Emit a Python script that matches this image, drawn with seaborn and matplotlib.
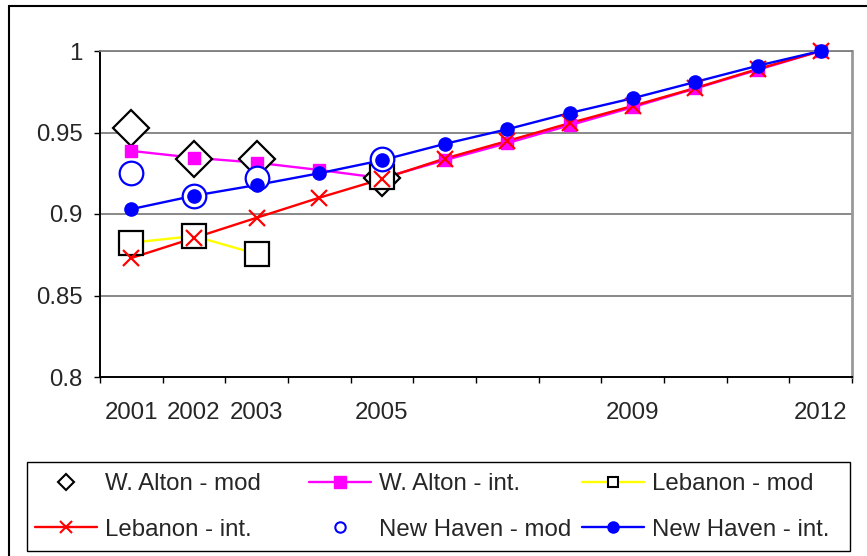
import numpy as np
import pandas as pd
import matplotlib
matplotlib.use("Agg")
import matplotlib.pyplot as plt
from matplotlib.lines import Line2D
from matplotlib.patches import Rectangle
import seaborn as sns

nan = np.nan

# ---- data -------------------------------------------------------------
years = list(range(2001, 2013))
walton_mod = [0.953, 0.934, 0.934, nan, 0.922, nan, nan, nan, nan, nan, nan, nan]
walton_int = [0.9387, 0.9345, 0.9315, 0.927, 0.922, 0.933, 0.9435, 0.9545,
              0.9655, 0.977, 0.9885, 1.0]
lebanon_mod = [0.8824, 0.8865, 0.8755, nan, 0.9225, nan, nan, nan, nan, nan, nan, nan]
lebanon_int = [0.873, 0.8853, 0.8977, 0.910, 0.9215, 0.934, 0.9448, 0.9558,
               0.9663, 0.9773, 0.989, 1.0]
newhaven_mod = [0.925, 0.911, 0.922, nan, 0.9335, nan, nan, nan, nan, nan, nan, nan]
newhaven_int = [0.903, 0.9112, 0.9178, 0.925, 0.933, 0.943, 0.952, 0.962,
                0.971, 0.981, 0.991, 1.0]

series_names = ["W. Alton - mod", "W. Alton - int.", "Lebanon - mod",
                "Lebanon - int.", "New Haven - mod", "New Haven - int."]
series_values = [walton_mod, walton_int, lebanon_mod,
                 lebanon_int, newhaven_mod, newhaven_int]

labeled_years = [2001, 2002, 2003, 2005, 2009, 2012]
y_ticks = [0.8, 0.85, 0.9, 0.95, 1.0]
y_tick_labels = ["0.8", "0.85", "0.9", "0.95", "1"]

# ---- styles -----------------------------------------------------------
styles = [
    dict(line=None, marker="D", ms=18, mfc="white", mec="black", mew=1.6,
         leg_ms=8),
    dict(line="#FF00FF", marker="s", ms=9, mfc="#FF00FF", mec="#FF00FF", mew=1,
         leg_ms=8.5),
    dict(line="#FFFF00", marker="s", ms=17, mfc="white", mec="black", mew=1.6,
         leg_ms=7),
    dict(line="#FF0000", marker="x", ms=11, mfc="#FF0000", mec="#FF0000", mew=1.6,
         leg_ms=9),
    dict(line=None, marker="o", ms=17, mfc="white", mec="#0000FF", mew=1.6,
         leg_ms=7.5),
    dict(line="#0000FF", marker="o", ms=9.5, mfc="#0000FF", mec="#0000FF", mew=1,
         leg_ms=8),
]

FS = 17.3
LW = 1.7

sns.set_style("white")
plt.rcParams["font.family"] = ["Liberation Sans", "DejaVu Sans"]

fig = plt.figure(figsize=(8.67, 5.56), dpi=100)
ax = fig.add_axes([100 / 867, 1 - 377 / 556, 752 / 867, 326 / 556])

# lines first (broken where a year is missing), markers on top
for vals, st in zip(series_values, styles):
    if st["line"] is None:
        continue
    df = pd.DataFrame({"year": years, "value": vals})
    run_id = df["value"].isna().cumsum()
    for _, grp in df[df["value"].notna()].groupby(run_id[df["value"].notna()]):
        if len(grp) < 2:
            continue
        sns.lineplot(data=grp, x="year", y="value", color=st["line"], lw=LW,
                     estimator=None, sort=False, legend=False, ax=ax, zorder=2)

for i, (vals, st) in enumerate(zip(series_values, styles)):
    df = pd.DataFrame({"year": years, "value": vals}).dropna()
    sns.lineplot(data=df, x="year", y="value", linestyle="", marker=st["marker"],
                 markersize=st["ms"], markerfacecolor=st["mfc"],
                 markeredgecolor=st["mec"], markeredgewidth=st["mew"],
                 estimator=None, sort=False, legend=False, ax=ax,
                 zorder=3 + i, clip_on=False)

# ---- axes -------------------------------------------------------------
ax.set_xlim(2000.5, 2012.5)
ax.set_ylim(0.8, 1.0)
ax.set_xlabel("")
ax.set_ylabel("")

ax.set_xticks(np.arange(2000.5, 2013, 1.0))
ax.set_xticklabels([])
ax.set_xticks(labeled_years, minor=True)
ax.set_xticklabels([str(y) for y in labeled_years], minor=True)
ax.tick_params(axis="x", which="major", direction="out", length=4.5, width=1,
               color="black", bottom=True)
ax.tick_params(axis="x", which="minor", length=0, pad=18, labelsize=FS,
               bottom=True)

ax.set_yticks(y_ticks)
ax.set_yticklabels(y_tick_labels)
ax.tick_params(axis="y", direction="out", length=4.5, width=1, color="black",
               left=True, pad=8, labelsize=FS)

for yv in y_ticks[1:]:
    ax.axhline(yv, color="#7f7f7f", lw=1.3, zorder=1)

ax.spines["left"].set_color("black")
ax.spines["left"].set_linewidth(1.4)
ax.spines["bottom"].set_color("black")
ax.spines["bottom"].set_linewidth(1.4)
ax.spines["top"].set_color("#7f7f7f")
ax.spines["top"].set_linewidth(1.3)
ax.spines["right"].set_color("#999999")
ax.spines["right"].set_linewidth(2)

# ---- legend: three equal-width columns inside one frame ---------------
handles = []
for st in styles:
    handles.append(Line2D([], [], color=st["line"] if st["line"] else "none",
                          lw=LW if st["line"] else 0, marker=st["marker"],
                          markersize=st["leg_ms"], markerfacecolor=st["mfc"],
                          markeredgecolor=st["mec"],
                          markeredgewidth=min(st["mew"], 1.5)))

col_x = [35 / 867, 309 / 867, 582 / 867]
col_items = [(0, 3), (1, 4), (2, 5)]
for cx, (a, b) in zip(col_x, col_items):
    fig.legend([handles[a], handles[b]], [series_names[a], series_names[b]],
               loc="center left", bbox_to_anchor=(cx, 1 - 507 / 556),
               frameon=False, fontsize=FS, handlelength=2.6,
               handletextpad=0.3, labelspacing=0.97, borderpad=0,
               borderaxespad=0, numpoints=1)

fig.patches.append(Rectangle((27 / 867, 1 - 551 / 556), 823 / 867, 89 / 556,
                             transform=fig.transFigure, fill=False,
                             edgecolor="black", lw=1.0))
# outer chart border (open to the right and bottom)
fig.patches.append(Rectangle((9 / 867, -0.2), 1.2, 1.2 - 6 / 556,
                             transform=fig.transFigure, fill=False,
                             edgecolor="black", lw=1.5))

fig.savefig("out.png", dpi=100)
